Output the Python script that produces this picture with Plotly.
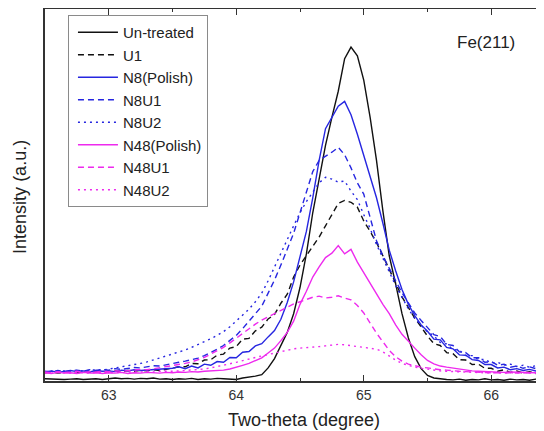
import plotly.graph_objects as go

two_theta = [62.50, 62.55, 62.60, 62.65, 62.70, 62.75, 62.80, 62.85, 62.90, 62.95,
             63.00, 63.05, 63.10, 63.15, 63.20, 63.25, 63.30, 63.35, 63.40, 63.45,
             63.50, 63.55, 63.60, 63.65, 63.70, 63.75, 63.80, 63.85, 63.90, 63.95,
             64.00, 64.05, 64.10, 64.15, 64.20, 64.25, 64.30, 64.35, 64.40, 64.45,
             64.50, 64.55, 64.60, 64.65, 64.70, 64.75, 64.80, 64.85, 64.90, 64.95,
             65.00, 65.05, 65.10, 65.15, 65.20, 65.25, 65.30, 65.35, 65.40, 65.45,
             65.50, 65.55, 65.60, 65.65, 65.70, 65.75, 65.80, 65.85, 65.90, 65.95,
             66.00, 66.05, 66.10, 66.15, 66.20, 66.25, 66.30, 66.35, 66.40, 66.45]

untreated = [0.006, 0.005, 0.006, 0.004, 0.005, 0.006, 0.004, 0.005, 0.006, 0.004,
             0.006, 0.008, 0.006, 0.007, 0.005, 0.007, 0.006, 0.008, 0.005, 0.006,
             0.004, 0.006, 0.005, 0.007, 0.004, 0.006, 0.005, 0.007, 0.006, 0.005,
             0.004, 0.008, 0.010, 0.013, 0.017, 0.035, 0.060, 0.095, 0.130, 0.180,
             0.250, 0.340, 0.450, 0.540, 0.630, 0.705, 0.775, 0.862, 0.893, 0.870,
             0.805, 0.705, 0.590, 0.455, 0.335, 0.260, 0.180, 0.115, 0.065, 0.033,
             0.015, 0.008, 0.005, 0.004, 0.003, 0.005, 0.002, 0.004, 0.003, 0.006,
             0.003, 0.004, 0.002, 0.005, 0.003, 0.004, 0.002, 0.005, 0.003, 0.004]

u1 = [0.022, 0.024, 0.021, 0.023, 0.025, 0.022, 0.024, 0.023, 0.026, 0.024,
      0.025, 0.027, 0.024, 0.028, 0.026, 0.029, 0.027, 0.030, 0.028, 0.031,
      0.033, 0.038, 0.038, 0.047, 0.046, 0.056, 0.057, 0.069, 0.072, 0.088,
      0.092, 0.112, 0.114, 0.134, 0.144, 0.166, 0.178, 0.208, 0.232, 0.278,
      0.310, 0.335, 0.360, 0.385, 0.415, 0.445, 0.475, 0.483, 0.478, 0.465,
      0.428, 0.400, 0.370, 0.335, 0.300, 0.262, 0.225, 0.195, 0.168, 0.145,
      0.120, 0.100, 0.095, 0.076, 0.073, 0.057, 0.056, 0.044, 0.045, 0.034,
      0.034, 0.026, 0.030, 0.023, 0.027, 0.021, 0.025, 0.020, 0.024, 0.021]

n8_polish = [0.024, 0.027, 0.023, 0.026, 0.028, 0.025, 0.027, 0.024, 0.028, 0.026,
             0.027, 0.025, 0.029, 0.027, 0.030, 0.028, 0.029, 0.031, 0.030, 0.033,
             0.034, 0.038, 0.033, 0.040, 0.035, 0.045, 0.042, 0.052, 0.050, 0.063,
             0.062, 0.077, 0.079, 0.094, 0.100, 0.118, 0.135, 0.165, 0.210, 0.265,
             0.330, 0.400, 0.490, 0.590, 0.675, 0.705, 0.735, 0.748, 0.712, 0.660,
             0.605, 0.550, 0.490, 0.422, 0.350, 0.295, 0.245, 0.205, 0.175, 0.150,
             0.133, 0.112, 0.110, 0.090, 0.086, 0.070, 0.069, 0.057, 0.055, 0.044,
             0.044, 0.035, 0.037, 0.030, 0.033, 0.028, 0.031, 0.027, 0.031, 0.028]

n8u1 = [0.026, 0.024, 0.028, 0.025, 0.027, 0.029, 0.026, 0.030, 0.028, 0.031,
        0.029, 0.033, 0.031, 0.034, 0.036, 0.035, 0.038, 0.041, 0.040, 0.044,
        0.047, 0.050, 0.053, 0.057, 0.061, 0.068, 0.076, 0.085, 0.095, 0.108,
        0.122, 0.140, 0.160, 0.180, 0.200, 0.235, 0.270, 0.310, 0.350, 0.395,
        0.450, 0.505, 0.560, 0.590, 0.600, 0.612, 0.625, 0.605, 0.570, 0.530,
        0.500, 0.440, 0.375, 0.335, 0.300, 0.268, 0.236, 0.207, 0.182, 0.162,
        0.143, 0.124, 0.119, 0.098, 0.095, 0.078, 0.076, 0.062, 0.062, 0.050,
        0.052, 0.042, 0.045, 0.037, 0.040, 0.034, 0.038, 0.033, 0.037, 0.034]

n8u2 = [0.024, 0.026, 0.025, 0.027, 0.026, 0.028, 0.027, 0.029, 0.030, 0.029,
        0.032, 0.034, 0.036, 0.039, 0.043, 0.047, 0.051, 0.056, 0.061, 0.066,
        0.072, 0.077, 0.083, 0.090, 0.097, 0.105, 0.113, 0.122, 0.132, 0.145,
        0.160, 0.175, 0.192, 0.212, 0.235, 0.268, 0.305, 0.345, 0.380, 0.415,
        0.450, 0.480, 0.505, 0.530, 0.545, 0.540, 0.532, 0.535, 0.508, 0.485,
        0.445, 0.408, 0.365, 0.330, 0.292, 0.255, 0.222, 0.193, 0.167, 0.148,
        0.131, 0.121, 0.103, 0.099, 0.084, 0.082, 0.068, 0.068, 0.057, 0.058,
        0.048, 0.050, 0.043, 0.045, 0.039, 0.042, 0.037, 0.041, 0.036, 0.039]

n48_polish = [0.022, 0.020, 0.023, 0.021, 0.022, 0.020, 0.023, 0.021, 0.022, 0.020,
              0.022, 0.021, 0.023, 0.020, 0.022, 0.021, 0.023, 0.022, 0.021, 0.023,
              0.022, 0.024, 0.023, 0.025, 0.024, 0.026, 0.027, 0.026, 0.029, 0.032,
              0.036, 0.042, 0.047, 0.054, 0.062, 0.075, 0.088, 0.108, 0.130, 0.160,
              0.205, 0.240, 0.278, 0.305, 0.330, 0.342, 0.362, 0.340, 0.352, 0.318,
              0.290, 0.260, 0.232, 0.205, 0.180, 0.150, 0.125, 0.105, 0.088, 0.070,
              0.055, 0.046, 0.040, 0.037, 0.034, 0.031, 0.029, 0.027, 0.026, 0.025,
              0.024, 0.024, 0.023, 0.024, 0.023, 0.022, 0.023, 0.022, 0.023, 0.022]

n48u1 = [0.024, 0.022, 0.025, 0.023, 0.024, 0.026, 0.023, 0.025, 0.024, 0.026,
         0.025, 0.027, 0.026, 0.028, 0.029, 0.031, 0.030, 0.033, 0.035, 0.037,
         0.040, 0.043, 0.047, 0.051, 0.056, 0.063, 0.072, 0.080, 0.090, 0.102,
         0.115, 0.128, 0.140, 0.152, 0.163, 0.172, 0.180, 0.190, 0.198, 0.206,
         0.212, 0.218, 0.224, 0.227, 0.222, 0.224, 0.228, 0.222, 0.217, 0.202,
         0.182, 0.155, 0.128, 0.105, 0.082, 0.065, 0.053, 0.045, 0.040, 0.037,
         0.035, 0.032, 0.030, 0.029, 0.027, 0.026, 0.025, 0.024, 0.023, 0.023,
         0.022, 0.022, 0.021, 0.022, 0.021, 0.022, 0.021, 0.021, 0.022, 0.021]

n48u2 = [0.022, 0.021, 0.023, 0.022, 0.021, 0.023, 0.022, 0.021, 0.023, 0.022,
         0.022, 0.023, 0.022, 0.024, 0.023, 0.024, 0.025, 0.024, 0.026, 0.025,
         0.026, 0.027, 0.028, 0.029, 0.030, 0.032, 0.035, 0.038, 0.042, 0.046,
         0.050, 0.055, 0.059, 0.063, 0.067, 0.071, 0.076, 0.080, 0.084, 0.086,
         0.088, 0.089, 0.090, 0.092, 0.094, 0.096, 0.098, 0.097, 0.094, 0.092,
         0.090, 0.088, 0.085, 0.078, 0.066, 0.056, 0.047, 0.041, 0.037, 0.034,
         0.031, 0.029, 0.027, 0.026, 0.025, 0.024, 0.024, 0.023, 0.023, 0.022,
         0.022, 0.022, 0.021, 0.022, 0.021, 0.022, 0.021, 0.022, 0.021, 0.022]

series_names = ["Un-treated", "U1", "N8(Polish)", "N8U1", "N8U2",
                "N48(Polish)", "N48U1", "N48U2"]
series_values = [untreated, u1, n8_polish, n8u1, n8u2, n48_polish, n48u1, n48u2]

BLACK = "#111111"
BLUE = "#2626e0"
MAGENTA = "#ee2aee"
DASH = "6px,4px"
DOT = "2px,4px"
styles = [(BLACK, "solid"), (BLACK, DASH), (BLUE, "solid"), (BLUE, DASH), (BLUE, DOT),
          (MAGENTA, "solid"), (MAGENTA, DASH), (MAGENTA, DOT)]

FONT = "Arial, 'Liberation Sans', sans-serif"

fig = go.Figure()
for name, vals, (color, dash) in zip(series_names, series_values, styles):
    fig.add_trace(go.Scatter(x=two_theta, y=vals, mode="lines", name=name,
                             line=dict(color=color, width=1.4, dash=dash)))

# the page body has an 8px default margin, so the figure is sized to fit the window
fig.update_layout(
    width=536, height=424,
    margin=dict(l=37, r=0, t=1, b=51),
    paper_bgcolor="white", plot_bgcolor="white",
    font=dict(family=FONT, color="#222222"),
    showlegend=True,
    legend=dict(x=0.046, y=0.984, xanchor="left", yanchor="top",
                bgcolor="white", bordercolor="#8a8a8a", borderwidth=1,
                font=dict(family=FONT, size=15, color="#222222"),
                itemwidth=40, tracegroupgap=0, indentation=4),
    xaxis=dict(range=[62.5, 66.4137], tick0=63, dtick=1, ticks="inside", ticklen=6,
               tickwidth=1.2, tickcolor="#333333", showline=True, linecolor="#333333",
               linewidth=1.5, mirror="ticks", showgrid=False, zeroline=False,
               tickfont=dict(family=FONT, size=14, color="#333333"),
               minor=dict(dtick=0.5, tick0=62.5, ticks="inside", ticklen=3,
                          tickcolor="#333333", tickwidth=1.2, showgrid=False)),
    yaxis=dict(range=[0, 0.995], showticklabels=False, ticks="", showline=True,
               linecolor="#333333", linewidth=1.5, mirror=False, showgrid=False,
               zeroline=False),
    annotations=[
        dict(text="Fe(211)", xref="paper", yref="paper", x=0.884, y=0.911,
             xanchor="center", yanchor="middle", showarrow=False,
             font=dict(family=FONT, size=17, color="#222222")),
        dict(text="Two-theta (degree)", xref="paper", yref="paper", x=0.519, y=-0.105,
             xanchor="center", yanchor="middle", showarrow=False,
             font=dict(family=FONT, size=18, color="#222222")),
        dict(text="Intensity (a.u.)", xref="paper", yref="paper", x=-0.05, y=0.495,
             xanchor="center", yanchor="middle", showarrow=False, textangle=-90,
             font=dict(family=FONT, size=18, color="#222222")),
    ],
)

fig.write_html("out.html")
